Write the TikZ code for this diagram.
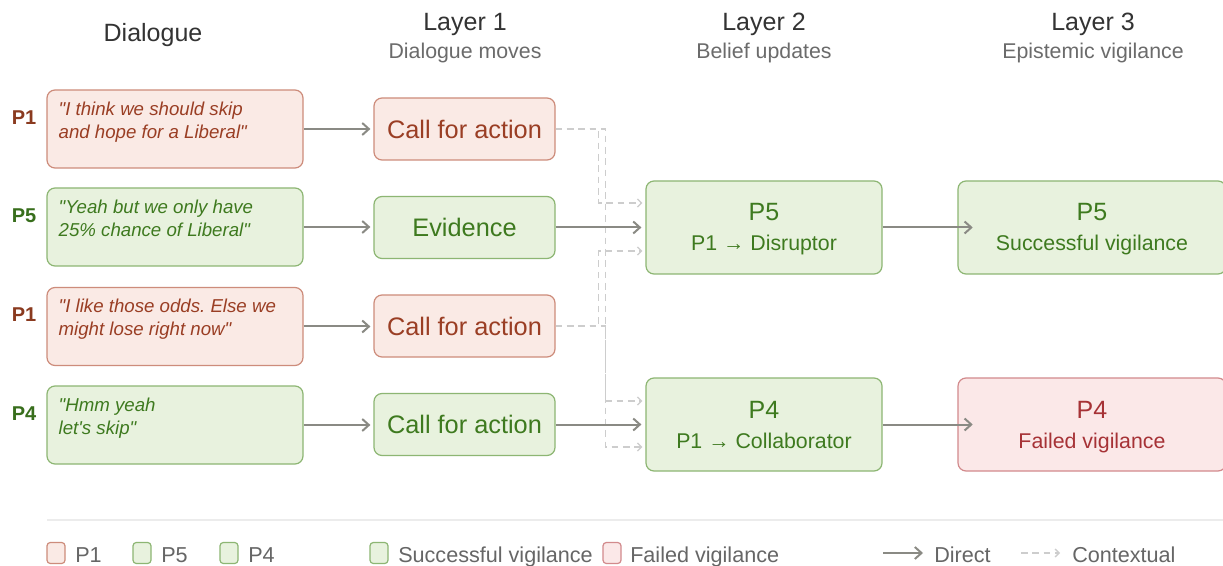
\documentclass[tikz,border=0pt]{standalone}
\usepackage{fontspec}
\setmainfont{Liberation Sans}[Ligatures=TeXOff]
\usetikzlibrary{arrows.meta,calc}
\frenchspacing
\definecolor{pOneFill}{HTML}{FAEAE5}
\definecolor{pOneDraw}{HTML}{CD8C7B}
\definecolor{pOneText}{HTML}{9A3E24}
\definecolor{pOneLab}{HTML}{8A3A1F}
\definecolor{gFill}{HTML}{E8F2DE}
\definecolor{gDraw}{HTML}{8DB673}
\definecolor{gText}{HTML}{3E7A1F}
\definecolor{gLab}{HTML}{386E1C}
\definecolor{fFill}{HTML}{FBE8E8}
\definecolor{fDraw}{HTML}{D28A8C}
\definecolor{fText}{HTML}{A63236}
\definecolor{titleC}{HTML}{333333}
\definecolor{subC}{HTML}{6B6B6B}
\definecolor{legC}{HTML}{666666}
\definecolor{dirC}{HTML}{8A8A84}
\definecolor{ctxC}{HTML}{CDCDCD}
\definecolor{sepC}{HTML}{ECECEC}
\newcommand\fsTitle{\fontsize{18.75}{22}\selectfont}
\newcommand\fsSub{\fontsize{16}{19}\selectfont}
\newcommand\fsDlg{\fontsize{14}{17}\selectfont}
\newcommand\fsP{\fontsize{15}{18}\selectfont}
\newcommand\fsMove{\fontsize{19}{22}\selectfont}
\newcommand\fsBig{\fontsize{18.75}{22}\selectfont}
\newcommand\fsMid{\fontsize{16}{19}\selectfont}
\newcommand\fsLeg{\fontsize{16.2}{19}\selectfont}
\tikzset{
  box/.style={rectangle, rounded corners=6pt, line width=0.9pt, inner sep=0pt},
  redbox/.style={box, fill=pOneFill, draw=pOneDraw, text=pOneText},
  greenbox/.style={box, fill=gFill, draw=gDraw, text=gText},
  failbox/.style={box, fill=fFill, draw=fDraw, text=fText},
  dlg/.style={minimum width=192pt, minimum height=58.5pt},
  mv/.style={minimum width=135.75pt, minimum height=46.5pt, font=\fsMove},
  bel/.style={minimum width=177pt, minimum height=69.75pt},
  vig/.style={minimum width=201pt, minimum height=69.75pt},
  dtxt/.style={inner sep=0pt, anchor=base west, font=\fsDlg\itshape},
  plab/.style={inner sep=0pt, font=\fsP\bfseries},
  bigtxt/.style={inner sep=0pt, anchor=base, font=\fsBig},
  midtxt/.style={inner sep=0pt, anchor=base, font=\fsMid},
  ttl/.style={inner sep=0pt, anchor=base, font=\fsTitle, text=titleC},
  subttl/.style={inner sep=0pt, anchor=base, font=\fsSub, text=subC},
  lsq/.style={rectangle, rounded corners=2.5pt, line width=0.9pt, inner sep=0pt, minimum width=13.5pt, minimum height=15.75pt},
  legtxt/.style={inner sep=0pt, anchor=base west, font=\fsLeg, text=legC},
  direct/.style={draw=dirC, line width=1.5pt, -{Straight Barb[length=5pt,width=9pt]}},
  ctx/.style={draw=ctxC, line width=1pt, dash pattern=on 5pt off 3.5pt, -{Straight Barb[length=3pt,width=6pt]}}
}
\begin{document}
\begin{tikzpicture}[x=0.75pt,y=-0.75pt]
\fill[white] (0,0) rectangle (1223,566);
\useasboundingbox (0,0) rectangle (1223,566);

% headers
\node[ttl] (h0) at (153,42) {Dialogue};
\node[ttl] (h1) at (465,31) {Layer 1};
\node[subttl] (s1) at (465,59) {Dialogue moves};
\node[ttl] (h2) at (764,31) {Layer 2};
\node[subttl] (s2) at (764,59) {Belief updates};
\node[ttl] (h3) at (1093,31) {Layer 3};
\node[subttl] (s3) at (1093,59) {Epistemic vigilance};

% dialogue column
\node[plab, text=pOneLab] (p1) at (24,117.5) {P1};
\node[plab, text=gLab] (p2) at (24,216) {P5};
\node[plab, text=pOneLab] (p3) at (24,315) {P1};
\node[plab, text=gLab] (p4) at (24,413.5) {P4};

\node[redbox, dlg] (d1) at (175,129) {};
\node[greenbox, dlg] (d2) at (175,227) {};
\node[redbox, dlg] (d3) at (175,326.5) {};
\node[greenbox, dlg] (d4) at (175,425) {};

\node[dtxt, text=pOneText] (d1a) at ($(d1.north west)+(12,26)$) {"I think we should skip};
\node[dtxt, text=pOneText] (d1b) at ($(d1.north west)+(12,49)$) {and hope for a Liberal"};
\node[dtxt, text=gText] (d2a) at ($(d2.north west)+(12,26)$) {"Yeah but we only have};
\node[dtxt, text=gText] (d2b) at ($(d2.north west)+(12,49)$) {25\% chance of Liberal"};
\node[dtxt, text=pOneText] (d3a) at ($(d3.north west)+(12,26)$) {"I like those odds. Else we};
\node[dtxt, text=pOneText] (d3b) at ($(d3.north west)+(12,49)$) {might lose right now"};
\node[dtxt, text=gText] (d4a) at ($(d4.north west)+(12,26)$) {"Hmm yeah};
\node[dtxt, text=gText] (d4b) at ($(d4.north west)+(12,49)$) {let's skip"};

% layer 1
\node[redbox, mv] (m1) at (464.5,129) {Call for action};
\node[greenbox, mv] (m2) at (464.5,227.5) {Evidence};
\node[redbox, mv] (m3) at (464.5,326) {Call for action};
\node[greenbox, mv] (m4) at (464.5,424.5) {Call for action};

% layer 2
\node[greenbox, bel] (b1) at (764,227.5) {};
\node[bigtxt, text=gText] (b1a) at ($(b1.center)+(0,-6.5)$) {P5};
\node[midtxt, text=gText] (b1b) at ($(b1.center)+(0,23.5)$) {P1 → Disruptor};
\node[greenbox, bel] (b2) at (764,424.5) {};
\node[bigtxt, text=gText] (b2a) at ($(b2.center)+(0,-6.5)$) {P4};
\node[midtxt, text=gText] (b2b) at ($(b2.center)+(0,23.5)$) {P1 → Collaborator};

% layer 3
\node[greenbox, vig] (v1) at (1092,227.5) {};
\node[bigtxt, text=gText] (v1a) at ($(v1.center)+(0,-6.5)$) {P5};
\node[midtxt, text=gText] (v1b) at ($(v1.center)+(0,23.5)$) {Successful vigilance};
\node[failbox, vig] (v2) at (1092,424.5) {};
\node[bigtxt, text=fText] (v2a) at ($(v2.center)+(0,-6.5)$) {P4};
\node[midtxt, text=fText] (v2b) at ($(v2.center)+(0,23.5)$) {Failed vigilance};

% contextual connectors
\draw[ctx] (m1.east) -- ++(43,0) |- ($(b1.west)+(-3,-24.5)$);
\draw[ctx] (m1.east) -- ++(50,0) |- ($(b2.west)+(-3,22.5)$);
\draw[ctx] (m3.east) -- ++(43,0) |- ($(b1.west)+(-3,23.5)$);
\draw[ctx] (m3.east) -- ++(50,0) |- ($(b2.west)+(-3,-23.5)$);

% direct connectors
\draw[direct, shorten >=2.25pt] (d1.east) -- (m1.west);
\draw[direct, shorten >=2.25pt] (d2.east) -- (m2.west |- d2.east);
\draw[direct, shorten >=2.25pt] (d3.east) -- (m3.west |- d3.east);
\draw[direct, shorten >=2.25pt] (d4.east) -- (m4.west |- d4.east);
\draw[direct, shorten >=3pt] (m2.east) -- (b1.west);
\draw[direct, shorten >=3pt] (m4.east) -- (b2.west);
\draw[direct] (b1.east) -- ([xshift=11.5pt]v1.west);
\draw[direct] (b2.east) -- ([xshift=11.5pt]v2.west);

% legend
\coordinate (sepL) at (47,520);
\coordinate (sepR) at (1223,520);
\draw[sepC, line width=1.2pt] (sepL) -- (sepR);

\node[lsq, fill=pOneFill, draw=pOneDraw] (l1) at (56,553) {};
\node[legtxt] (l1t) at (75,562) {P1};
\node[lsq, fill=gFill, draw=gDraw] (l2) at (142,553) {};
\node[legtxt] (l2t) at (161,562) {P5};
\node[lsq, fill=gFill, draw=gDraw] (l3) at (229,553) {};
\node[legtxt] (l3t) at (248,562) {P4};
\node[lsq, fill=gFill, draw=gDraw] (l4) at (379,553) {};
\node[legtxt] (l4t) at (398,562) {Successful vigilance};
\node[lsq, fill=fFill, draw=fDraw] (l5) at (612,553) {};
\node[legtxt] (l5t) at (630,562) {Failed vigilance};

\coordinate (ldA) at (883,553);
\coordinate (ldB) at (923,553);
\draw[direct] (ldA) -- (ldB);
\node[legtxt] (l6t) at (934,562) {Direct};
\coordinate (lcA) at (1021,553);
\coordinate (lcB) at (1060,553);
\draw[ctx] (lcA) -- (lcB);
\node[legtxt] (l7t) at (1072,562) {Contextual};
\end{tikzpicture}
\end{document}
